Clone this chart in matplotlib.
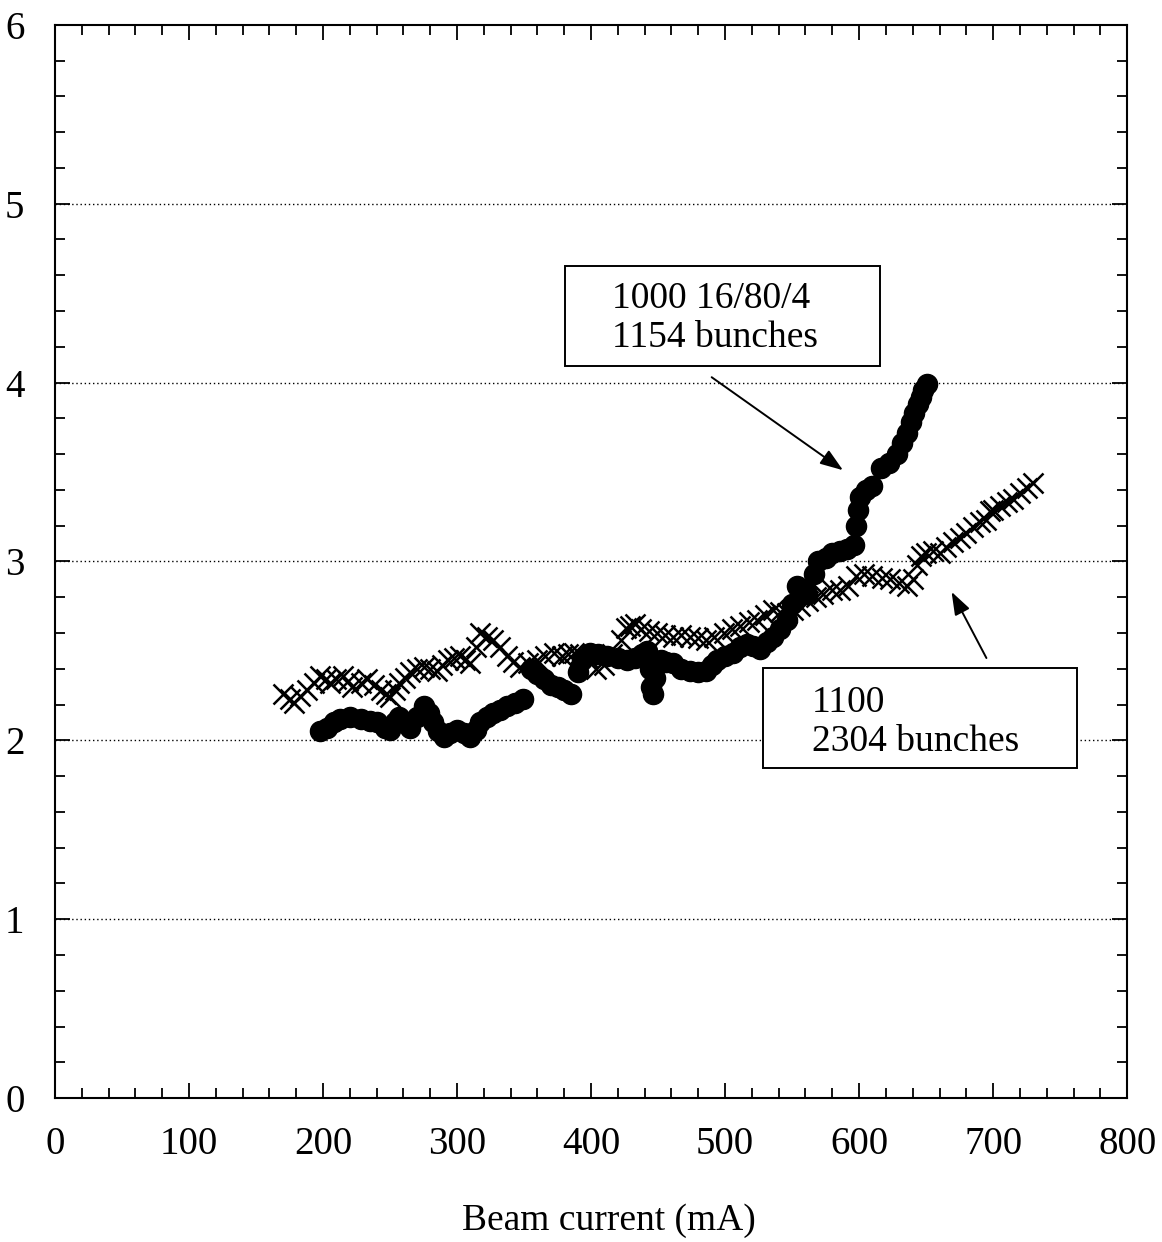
import matplotlib
matplotlib.use("Agg")
import matplotlib.pyplot as plt
from matplotlib.patches import Rectangle
from matplotlib.ticker import MultipleLocator

plt.rcParams["font.family"] = ["Liberation Serif", "DejaVu Serif"]

# 1000 16/80/4, 1154 bunches (filled circles)
cur_a = [198, 203, 208, 213, 220, 228, 235, 240, 246, 250, 254, 257, 261, 265,
         270, 275, 279, 282, 286, 290, 295, 300, 305, 310, 314, 317, 322, 327,
         332, 337, 343, 349, 355, 360, 365, 370, 375, 380, 385, 390, 393, 399,
         405, 412, 420, 427, 433, 438, 442, 444, 445, 446, 448, 452, 456, 461,
         467, 474, 480, 486, 490, 494, 500, 506, 511, 516, 521, 526, 531, 536,
         541, 546, 550, 554, 558, 561, 566, 569, 575, 580, 586, 591, 596, 598,
         599, 601, 605, 610, 616, 622, 628, 632, 636, 639, 641, 644, 646, 648,
         651]
val_a = [2.05, 2.07, 2.10, 2.12, 2.13, 2.12, 2.11, 2.10, 2.07, 2.06, 2.10, 2.13,
         2.10, 2.07, 2.13, 2.19, 2.15, 2.10, 2.05, 2.02, 2.04, 2.06, 2.04, 2.02,
         2.06, 2.10, 2.13, 2.15, 2.17, 2.19, 2.21, 2.23, 2.40, 2.37, 2.34, 2.31,
         2.30, 2.28, 2.26, 2.38, 2.45, 2.49, 2.48, 2.47, 2.46, 2.45, 2.46, 2.48,
         2.50, 2.40, 2.30, 2.26, 2.35, 2.45, 2.44, 2.43, 2.40, 2.39, 2.38, 2.39,
         2.42, 2.45, 2.47, 2.49, 2.52, 2.54, 2.53, 2.51, 2.55, 2.58, 2.62, 2.67,
         2.76, 2.86, 2.84, 2.82, 2.93, 3.00, 3.02, 3.05, 3.06, 3.07, 3.09, 3.20,
         3.29, 3.36, 3.40, 3.42, 3.52, 3.55, 3.60, 3.66, 3.72, 3.78, 3.83, 3.88,
         3.92, 3.96, 3.99]

# 1100, 2304 bunches (crosses)
cur_b = [170, 175, 178, 183, 188, 193, 198, 202, 205, 210, 215, 219, 222, 228,
         233, 238, 243, 247, 250, 254, 257, 261, 265, 270, 275, 280, 285, 289,
         293, 298, 302, 306, 310, 314, 317, 322, 327, 332, 337, 342, 347, 353,
         360, 366, 372, 378, 383, 387, 392, 398, 404, 410, 416, 422, 426, 429,
         433, 437, 443, 449, 455, 461, 467, 474, 480, 486, 492, 499, 505, 511,
         518, 524, 530, 536, 541, 546, 551, 556, 562, 568, 573, 580, 586, 592,
         598, 604, 610, 617, 623, 630, 636, 640, 643, 646, 650, 655, 660, 665,
         670, 675, 680, 685, 690, 695, 698, 700, 705, 710, 715, 720, 725, 730]
val_b = [2.26, 2.23, 2.21, 2.25, 2.28, 2.32, 2.36, 2.34, 2.32, 2.34, 2.36, 2.33,
         2.30, 2.32, 2.34, 2.31, 2.28, 2.26, 2.24, 2.28, 2.32, 2.35, 2.38, 2.40,
         2.41, 2.40, 2.39, 2.42, 2.45, 2.46, 2.47, 2.45, 2.43, 2.52, 2.60, 2.58,
         2.56, 2.52, 2.47, 2.44, 2.41, 2.43, 2.45, 2.47, 2.49, 2.47, 2.48, 2.49,
         2.48, 2.46, 2.40, 2.42, 2.48, 2.56, 2.63, 2.64, 2.65, 2.62, 2.61, 2.60,
         2.59, 2.58, 2.59, 2.58, 2.57, 2.56, 2.58, 2.60, 2.62, 2.64, 2.66, 2.67,
         2.70, 2.73, 2.72, 2.71, 2.73, 2.75, 2.78, 2.80, 2.82, 2.84, 2.84, 2.86,
         2.92, 2.93, 2.92, 2.91, 2.90, 2.88, 2.86, 2.90, 2.98, 3.03, 3.05, 3.06,
         3.05, 3.08, 3.11, 3.13, 3.16, 3.19, 3.22, 3.23, 3.28, 3.29, 3.31, 3.33,
         3.35, 3.38, 3.41, 3.44]

label_a = "1000 16/80/4\n1154 bunches"
label_b = "1100\n2304 bunches"

fig = plt.figure(figsize=(11.62, 12.42), dpi=100)
ax = fig.add_axes([0.0473, 0.1159, 0.9227, 0.8641])

ax.plot(cur_b, val_b, linestyle="none", marker="x", markersize=14,
        markeredgewidth=1.8, color="black", zorder=3)
ax.plot(cur_a, val_a, linestyle="none", marker="o", markersize=14.5,
        color="black", zorder=4)

ax.set_xlim(0, 800)
ax.set_ylim(0, 6)
ax.xaxis.set_major_locator(MultipleLocator(100))
ax.xaxis.set_minor_locator(MultipleLocator(20))
ax.yaxis.set_major_locator(MultipleLocator(1))
ax.yaxis.set_minor_locator(MultipleLocator(0.2))
ax.tick_params(which="both", direction="in", top=True, right=True,
               labelsize=28, width=1.3, color="black")
ax.tick_params(which="major", length=11)
ax.tick_params(axis="x", which="major", pad=20)
ax.tick_params(axis="y", which="major", pad=22)
ax.tick_params(which="minor", length=7)
for s in ax.spines.values():
    s.set_linewidth(1.5)

for yv in range(1, 6):
    ax.axhline(yv, color="black", linestyle=(0, (1, 2)), linewidth=1.0, zorder=1)

ax.set_xlabel("Beam current (mA)", fontsize=27, labelpad=30)
ax.xaxis.set_label_coords(0.517, -0.098)

# label boxes
ax.add_patch(Rectangle((380.6, 4.094), 235.1, 0.559, facecolor="white",
                       edgecolor="black", linewidth=1.4, zorder=5))
ax.text(415.7, 4.36, label_a, fontsize=27, ha="left", va="center",
        linespacing=1.15, zorder=6)
ax.add_patch(Rectangle((528.4, 1.846), 234.3, 0.559, facecolor="white",
                       edgecolor="black", linewidth=1.4, zorder=5))
ax.text(565.0, 2.10, label_b, fontsize=27, ha="left", va="center",
        linespacing=1.15, zorder=6)

arrow = dict(arrowstyle="-|>,head_length=1.4,head_width=0.5", color="black",
             linewidth=1.4, shrinkA=0, shrinkB=0)
ax.annotate("", xy=(588, 3.51), xytext=(490, 4.03), arrowprops=arrow)
ax.annotate("", xy=(669, 2.83), xytext=(695, 2.46), arrowprops=arrow)

fig.savefig("out.png", dpi=100)
